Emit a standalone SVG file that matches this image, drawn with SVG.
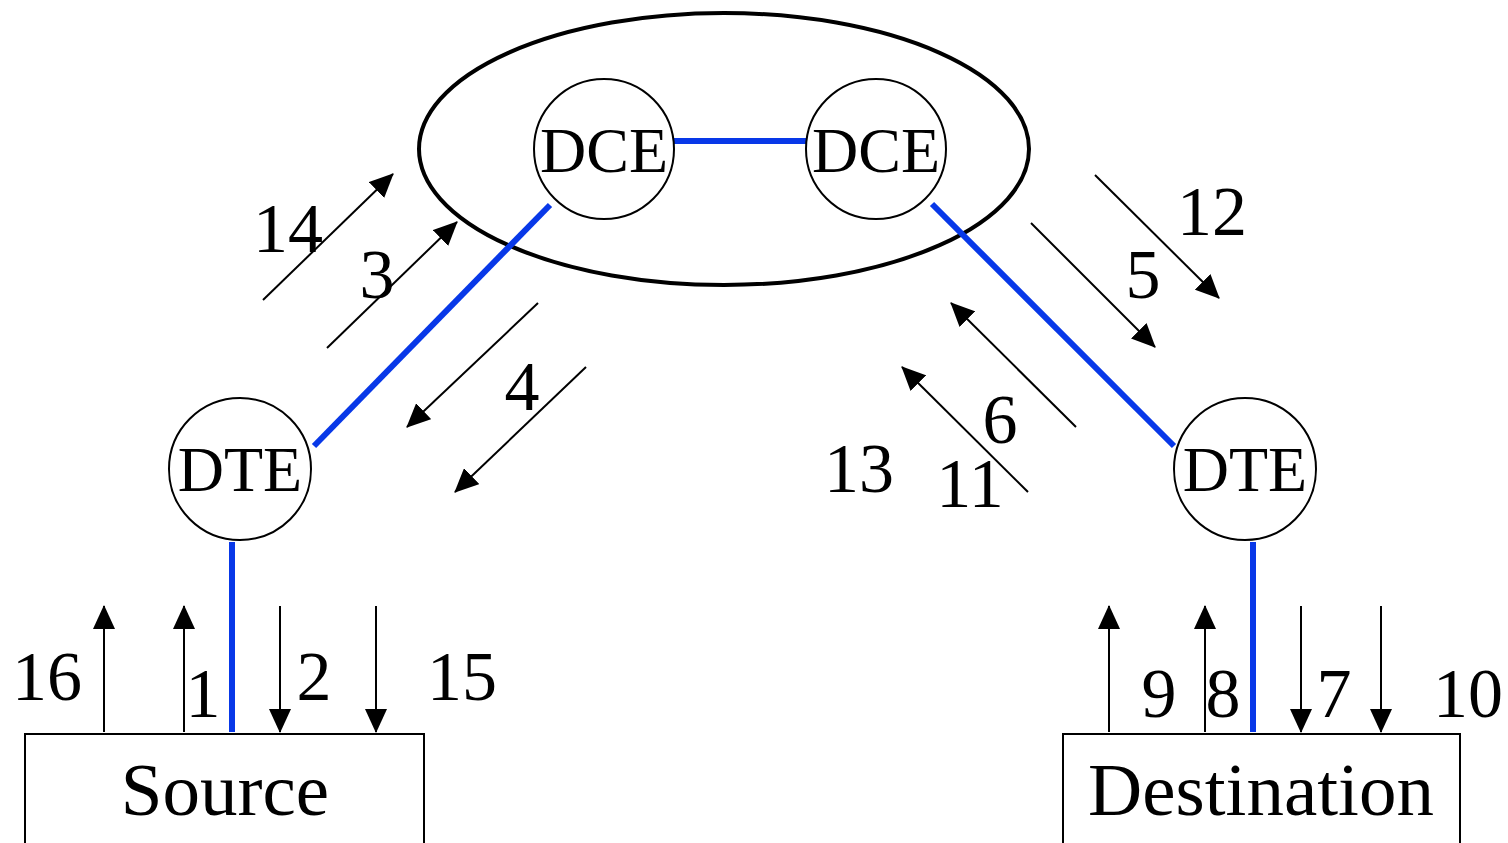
<svg xmlns="http://www.w3.org/2000/svg" width="1508" height="843" viewBox="0 0 1508 843">
<style>
.t{font-family:"Liberation Serif","Times New Roman",serif;fill:#000;text-anchor:middle}
.n{font-size:70px}
.lbl{font-size:64px}
.big{font-size:75px}
.node{fill:#fff;stroke:#000;stroke-width:2}
.blue{stroke:#0838E8;stroke-width:6;fill:none}
.arr{stroke:#000;stroke-width:2;fill:none;marker-end:url(#ah)}
</style>
<defs>
<marker id="ah" markerUnits="userSpaceOnUse" markerWidth="24" markerHeight="22" refX="23" refY="11" orient="auto" viewBox="0 0 24 22">
<path d="M0,0 L24,11 L0,22 z" fill="#000"/>
</marker>
</defs>
<rect width="1508" height="843" fill="#fff"/>
<g id="network">
<ellipse cx="724" cy="149" rx="305" ry="136" fill="none" stroke="#000" stroke-width="4"/>
</g>
<g id="connectors">
<line class="blue" x1="674" y1="141" x2="806" y2="141"/>
<line class="blue" x1="550" y1="205" x2="314" y2="446"/>
<line class="blue" x1="932" y1="204" x2="1174" y2="446"/>
<line class="blue" x1="232" y1="542" x2="232" y2="732"/>
<line class="blue" x1="1253" y1="542" x2="1253" y2="732"/>
<line class="arr" x1="263" y1="300" x2="393" y2="174"/>
<line class="arr" x1="327" y1="348" x2="457" y2="222"/>
<line class="arr" x1="538" y1="303" x2="407" y2="427"/>
<line class="arr" x1="586" y1="367" x2="455" y2="492"/>
<line class="arr" x1="1095" y1="175" x2="1219" y2="298"/>
<line class="arr" x1="1031" y1="223" x2="1155" y2="347"/>
<line class="arr" x1="1076" y1="427" x2="951" y2="303"/>
<line class="arr" x1="1028" y1="492" x2="902" y2="367"/>
<line class="arr" x1="104" y1="732" x2="104" y2="606"/>
<line class="arr" x1="184" y1="732" x2="184" y2="606"/>
<line class="arr" x1="280" y1="606" x2="280" y2="732"/>
<line class="arr" x1="376" y1="606" x2="376" y2="732"/>
<line class="arr" x1="1109" y1="732" x2="1109" y2="606"/>
<line class="arr" x1="1205" y1="732" x2="1205" y2="606"/>
<line class="arr" x1="1301" y1="606" x2="1301" y2="732"/>
<line class="arr" x1="1381" y1="606" x2="1381" y2="732"/>
</g>
<g id="labels">
<text class="t n" x="288" y="252">14</text>
<text class="t n" x="377" y="298">3</text>
<text class="t n" x="522" y="410">4</text>
<text class="t n" x="1212" y="235">12</text>
<text class="t n" x="1143" y="298">5</text>
<text class="t n" x="1000" y="443">6</text>
<text class="t n" x="859" y="492">13</text>
<text class="t n" x="970" y="507">11</text>
<text class="t n" x="47" y="700">16</text>
<text class="t n" x="203" y="717">1</text>
<text class="t n" x="314" y="700">2</text>
<text class="t n" x="462" y="700">15</text>
<text class="t n" x="1159" y="717">9</text>
<text class="t n" x="1223" y="717">8</text>
<text class="t n" x="1334" y="717">7</text>
<text class="t n" x="1468" y="717">10</text>
</g>
<g id="dce1">
<circle class="node" cx="604" cy="149" r="70"/>
<text class="t lbl" x="604" y="172">DCE</text>
</g>
<g id="dce2">
<circle class="node" cx="876" cy="149" r="70"/>
<text class="t lbl" x="876" y="172">DCE</text>
</g>
<g id="dte1">
<circle class="node" cx="240" cy="469" r="71"/>
<text class="t lbl" x="240" y="491">DTE</text>
</g>
<g id="dte2">
<circle class="node" cx="1245" cy="469" r="71"/>
<text class="t lbl" x="1245" y="491">DTE</text>
</g>
<g id="source">
<rect x="25" y="734" width="399" height="130" fill="#fff" stroke="#000" stroke-width="2"/>
<text class="t big" x="225" y="815">Source</text>
</g>
<g id="destination">
<rect x="1063" y="734" width="397" height="130" fill="#fff" stroke="#000" stroke-width="2"/>
<text class="t big" x="1261" y="815">Destination</text>
</g>
</svg>
